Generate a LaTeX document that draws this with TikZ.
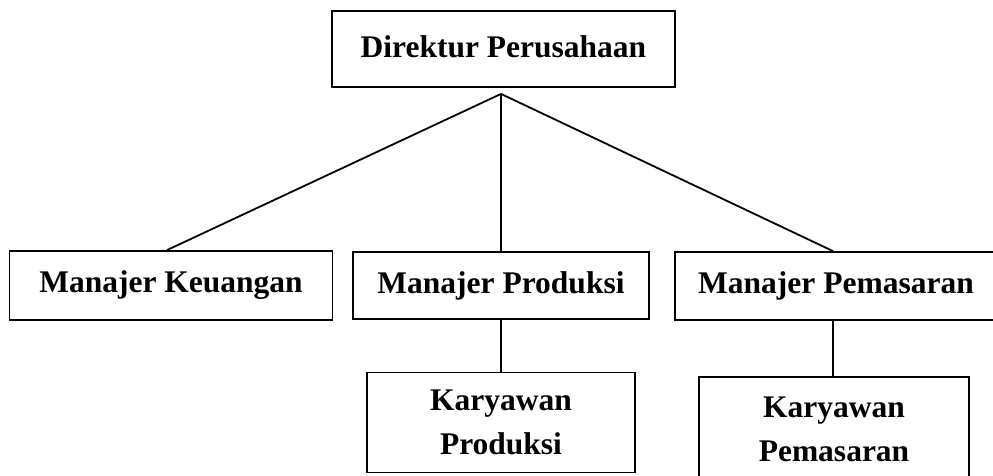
\documentclass[tikz,border=0pt]{standalone}
\usepackage{fontspec}
\setmainfont{Liberation Serif}
\usetikzlibrary{calc}
\begin{document}
\begin{tikzpicture}[x=1pt,y=-1pt,
  orgbox/.style={draw=black, line width=1.8pt, inner sep=0pt, align=center,
    font=\fontsize{31.5}{44}\selectfont\bfseries},
  link/.style={draw=black, line width=1.8pt}]
\useasboundingbox (0,0) rectangle (993,475);
\clip (0,0) rectangle (993,475);
\node[orgbox, minimum width=343pt, minimum height=76pt, text depth=5pt] (dir) at (503.5,49) {Direktur Perusahaan};
\node[orgbox, minimum width=323pt, minimum height=69pt] (mk) at (171,285.5) {Manajer Keuangan};
\node[orgbox, minimum width=296pt, minimum height=67pt] (mp) at (501,285.5) {Manajer Produksi};
\node[orgbox, minimum width=322pt, minimum height=68pt] (mpm) at (836,286) {Manajer Pemasaran};
\node[orgbox, minimum width=268pt, minimum height=100pt] (kp) at (501,422.5) {Karyawan\\Produksi};
\node[orgbox, minimum width=270pt, minimum height=104pt] (kpm) at (834,429) {Karyawan\\Pemasaran};
\coordinate (apex) at ($(dir.south -| mp.north)+(0,6)$);
\coordinate (mkt) at ($(mk.north)+(-4,0)$);
\coordinate (mpmt) at ($(mpm.north)+(-3,0)$);
\coordinate (mpmb) at ($(mpm.south)+(-3,0)$);
\draw[link] (apex) -- (mkt);
\draw[link] (apex) -- (mp.north);
\draw[link] (apex) -- (mpmt);
\draw[link] (mp.south) -- (kp.north);
\draw[link] (mpmb) -- (mpmb |- kpm.north);
\end{tikzpicture}
\end{document}
